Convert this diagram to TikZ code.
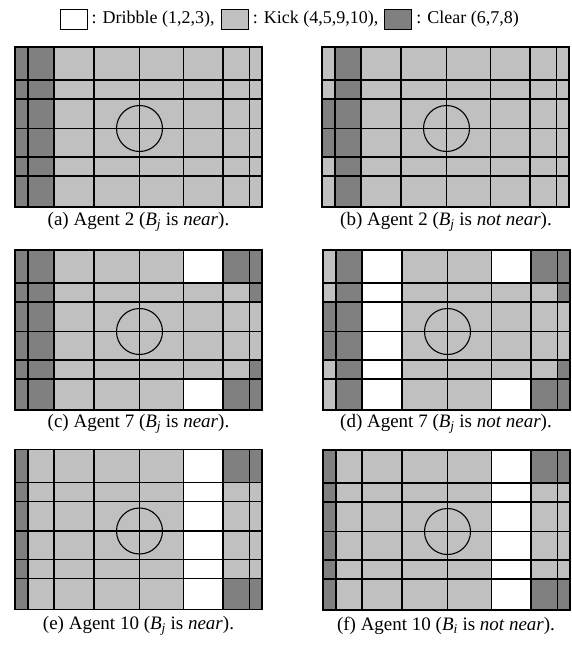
\documentclass[tikz,border=0pt]{standalone}
\usepackage{fontspec}
\setmainfont{Liberation Serif}
\usetikzlibrary{positioning}
\definecolor{W}{gray}{1}
\definecolor{L}{HTML}{C0C0C0}
\definecolor{D}{HTML}{808080}
\newcommand{\fieldpanel}[3]{%
  \begin{scope}[shift={(#1,#2)}]
  \foreach \col [count=\i from 0] in {#3}{%
    \pgfmathsetmacro\xa{{0,13,39,79,124.5,168.5,208,234.5,247}[\i]}%
    \pgfmathsetmacro\xb{{0,13,39,79,124.5,168.5,208,234.5,247}[\i+1]}%
    \foreach \k [count=\j from 0] in \col{%
      \pgfmathsetmacro\ya{{0,33,52,81.5,110,129,160}[\j]}%
      \pgfmathsetmacro\yb{{0,33,52,81.5,110,129,160}[\j+1]}%
      \filldraw[cell,fill=\k] (\xa,\ya) rectangle (\xb,\yb);
    }%
  }%
  \draw[line width=1.1pt] (124.5,81.5) circle (23);
  \draw[line width=1.1pt] (0,0) rectangle (247,160);
  \end{scope}}
\begin{document}
\begin{tikzpicture}[x=1pt,y=-1pt,
  cell/.style={draw=black,line width=1.1pt},
  capt/.style={font=\fontsize{19}{21}\selectfont,inner sep=0pt,anchor=center},
  legbox/.style={draw=black,line width=0.8pt,minimum width=27pt,minimum height=20pt,inner sep=0pt},
  legtxt/.style={font=\fontsize{18}{20}\selectfont,inner sep=0pt,anchor=west}]
\useasboundingbox (0,0) rectangle (572,645);
% legend
\node[legbox,fill=W] (lw) at (73.5,19) {};
\node[legtxt,right=4pt of lw] (tw) {: Dribble (1,2,3),};
\node[legbox,fill=L,right=6pt of tw] (ll) {};
\node[legtxt,right=4pt of ll] (tl) {: Kick (4,5,9,10),};
\node[legbox,fill=D,right=6pt of tl] (ld) {};
\node[legtxt,right=4pt of ld] (td) {: Clear (6,7,8)};
% (a)
\fieldpanel{15}{47}{{D,D,D,D,D,D},{D,D,D,D,D,D},{L,L,L,L,L,L},{L,L,L,L,L,L},{L,L,L,L,L,L},{L,L,L,L,L,L},{L,L,L,L,L,L},{L,L,L,L,L,L}}
% (b)
\fieldpanel{322}{47}{{L,L,D,D,L,L},{D,D,D,D,D,D},{L,L,L,L,L,L},{L,L,L,L,L,L},{L,L,L,L,L,L},{L,L,L,L,L,L},{L,L,L,L,L,L},{L,L,L,L,L,L}}
% (c)
\fieldpanel{15}{250}{{D,D,D,D,D,D},{D,D,D,D,D,D},{L,L,L,L,L,L},{L,L,L,L,L,L},{L,L,L,L,L,L},{W,L,L,L,L,W},{D,L,L,L,L,D},{D,D,L,L,D,D}}
% (d)
\fieldpanel{323}{250}{{L,L,D,D,L,L},{D,D,D,D,D,D},{W,W,W,W,W,W},{L,L,L,L,L,L},{L,L,L,L,L,L},{W,L,L,L,L,W},{D,L,L,L,L,D},{D,D,L,L,D,D}}
% (e)
\fieldpanel{15}{449.5}{{D,D,D,D,D,D},{L,L,L,L,L,L},{L,L,L,L,L,L},{L,L,L,L,L,L},{L,L,L,L,L,L},{W,W,W,W,W,W},{D,L,L,L,L,D},{D,L,L,L,L,D}}
% (f)
\fieldpanel{323}{450}{{D,D,D,D,D,D},{L,L,L,L,L,L},{L,L,L,L,L,L},{L,L,L,L,L,L},{L,L,L,L,L,L},{W,W,W,W,W,W},{D,L,L,L,L,D},{D,L,L,L,L,D}}
% captions
\node[capt] (ca) at (138.5,222) {(a) Agent 2 (\textit{B}\textsubscript{\textit{j}} is \textit{near}).};
\node[capt] (cb) at (446,222) {(b) Agent 2 (\textit{B}\textsubscript{\textit{j}} is \textit{not near}).};
\node[capt] (cc) at (138.5,424) {(c) Agent 7 (\textit{B}\textsubscript{\textit{j}} is \textit{near}).};
\node[capt] (cd) at (446,424) {(d) Agent 7 (\textit{B}\textsubscript{\textit{j}} is \textit{not near}).};
\node[capt] (ce) at (138.5,626) {(e) Agent 10 (\textit{B}\textsubscript{\textit{j}} is \textit{near}).};
\node[capt] (cf) at (446,626) {(f) Agent 10 (\textit{B}\textsubscript{\textit{i}} is \textit{not near}).};
\end{tikzpicture}
\end{document}
